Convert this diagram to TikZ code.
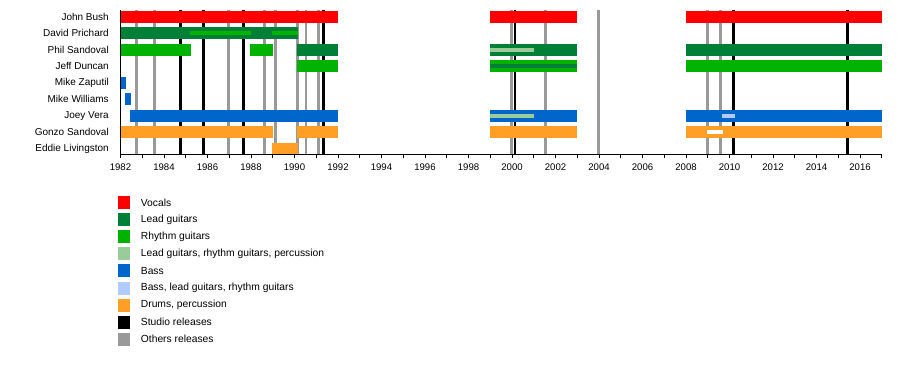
\documentclass[tikz,border=0pt]{standalone}
\usepackage{fontspec}
\setmainfont{Liberation Sans}
\definecolor{vocalred}{RGB}{255,0,0}
\definecolor{leadgreen}{RGB}{0,128,55}
\definecolor{rhythmgreen}{RGB}{0,179,0}
\definecolor{palegreen}{RGB}{153,204,153}
\definecolor{bassblue}{RGB}{0,102,204}
\definecolor{paleblue}{RGB}{179,204,255}
\definecolor{drumorange}{RGB}{255,159,38}
\definecolor{othergray}{RGB}{153,153,153}
\tikzset{
  name label/.style={anchor=east,inner sep=0pt,font=\fontsize{10}{12}\selectfont},
  year label/.style={inner sep=0pt,font=\fontsize{9.6}{12}\selectfont},
  key label/.style={anchor=west,inner sep=0pt,font=\fontsize{10.3}{12}\selectfont},
  studio/.style={line width=2.7pt,black},
  other/.style={line width=2.7pt,othergray},
}
\begin{document}
\begin{tikzpicture}[x=21.75pt,y=-1pt]
  % 1 unit across = 1 year, 0 = 1982
  \useasboundingbox[fill=white] (-5.540,0) rectangle (35.839,364);
  % releases
  \foreach \r in {0.74,1.55,4.96,6.61,7.12,8.13,8.53,9.10,17.97,19.53,21.97,26.98,27.58}
    \draw[other] (\r,10) -- (\r,154.3);
  \foreach \r in {2.75,3.81,5.65,9.33,18.14,28.18,33.42}
    \draw[studio] (\r,10) -- (\r,154.3);
  % members
  \node[name label] (bush) at (-0.53,16.7) {John Bush};
  \node[name label] (prichard) at (-0.53,33.2) {David Prichard};
  \node[name label] (phil) at (-0.53,49.7) {Phil Sandoval};
  \node[name label] (duncan) at (-0.53,66.1) {Jeff Duncan};
  \node[name label] (zaputil) at (-0.53,82.6) {Mike Zaputil};
  \node[name label] (williams) at (-0.53,99.1) {Mike Williams};
  \node[name label] (vera) at (-0.53,115.6) {Joey Vera};
  \node[name label] (gonzo) at (-0.53,132.1) {Gonzo Sandoval};
  \node[name label] (eddie) at (-0.53,148.5) {Eddie Livingston};
  % John Bush
  \fill[vocalred] (0,10.7) rectangle (10,22.7);
  \fill[vocalred] (17,10.7) rectangle (21,22.7);
  \fill[vocalred] (26,10.7) rectangle (35,22.7);
  % David Prichard
  \fill[leadgreen] (0,27.2) rectangle (8.15,39.2);
  \fill[rhythmgreen] (3.2,31.2) rectangle (5.98,35.2);
  \fill[rhythmgreen] (6.97,31.2) rectangle (8.15,35.2);
  % Phil Sandoval
  \fill[rhythmgreen] (0,43.7) rectangle (3.23,55.7);
  \fill[rhythmgreen] (5.95,43.7) rectangle (7,55.7);
  \fill[leadgreen] (8.12,43.7) rectangle (10,55.7);
  \fill[leadgreen] (17,43.7) rectangle (21,55.7);
  \fill[palegreen] (17,47.7) rectangle (19,51.7);
  \fill[leadgreen] (26,43.7) rectangle (35,55.7);
  % Jeff Duncan
  \fill[rhythmgreen] (8.12,60.1) rectangle (10,72.1);
  \fill[rhythmgreen] (17,60.1) rectangle (21,72.1);
  \fill[leadgreen] (17,64.1) rectangle (21,68.1);
  \fill[rhythmgreen] (26,60.1) rectangle (35,72.1);
  % Mike Zaputil, Mike Williams
  \fill[bassblue] (0,76.6) rectangle (0.24,88.6);
  \fill[bassblue] (0.2,93.1) rectangle (0.47,105.1);
  % Joey Vera
  \fill[bassblue] (0.44,109.6) rectangle (10,121.6);
  \fill[bassblue] (17,109.6) rectangle (21,121.6);
  \fill[palegreen] (17,113.6) rectangle (19,117.6);
  \fill[bassblue] (26,109.6) rectangle (35,121.6);
  \fill[paleblue] (27.65,113.6) rectangle (28.25,117.6);
  % Gonzo Sandoval
  \fill[drumorange] (0,126.1) rectangle (7,138.1);
  \fill[drumorange] (8.12,126.1) rectangle (10,138.1);
  \fill[drumorange] (17,126.1) rectangle (21,138.1);
  \fill[drumorange] (26,126.1) rectangle (35,138.1);
  \fill[white] (26.97,130.1) rectangle (27.7,134.1);
  % Eddie Livingston
  \fill[drumorange] (6.97,142.5) rectangle (8.15,154.3);
  % axes
  \draw[line width=0.8pt] (0,10) -- (0,154.3);
  \draw[line width=0.8pt] (0,154.3) -- (35,154.3);
  \foreach \t in {0,...,35}
    \draw[line width=0.8pt] (\t,154.3) -- (\t,157.6);
  \foreach \t in {0,2,...,34}{
    \pgfmathtruncatemacro{\yr}{1982+\t}
    \node[year label] (yr\t) at (\t,167.6) {\yr};
  }
  % legend
  \foreach \c/\txt [count=\i from 0] in {vocalred/Vocals,leadgreen/Lead guitars,
      rhythmgreen/Rhythm guitars,palegreen/{Lead guitars, rhythm guitars, percussion},
      bassblue/Bass,paleblue/{Bass, lead guitars, rhythm guitars},
      drumorange/{Drums, percussion},black/Studio releases,othergray/Others releases}{
    \fill[\c] (-0.115,196+17.1*\i) rectangle (0.437,209+17.1*\i);
    \node[key label] (key\i) at (0.929,202.5+17.1*\i) {\txt};
  }
\end{tikzpicture}
\end{document}
